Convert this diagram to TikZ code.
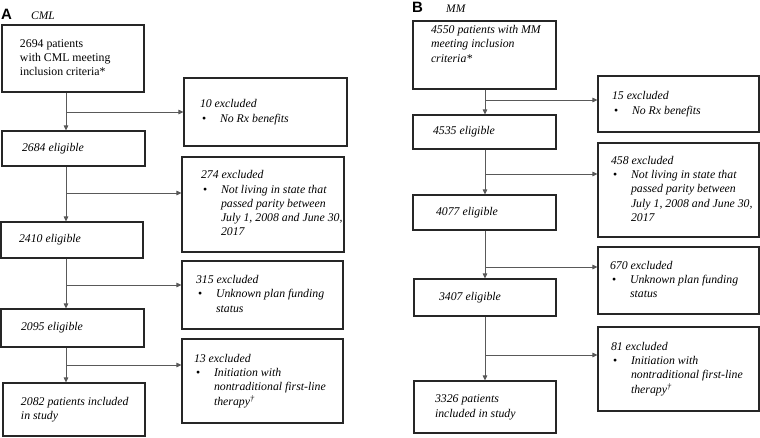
\documentclass[tikz,border=0pt]{standalone}
\usepackage{fontspec}
\setmainfont{Liberation Serif}
\setsansfont{Liberation Sans}
\usetikzlibrary{arrows.meta,calc}
% #1 = inner width, #2 = left pad, #3 = lines
\newcommand\btext[3]{\makebox[#1pt][l]{\hspace*{#2pt}\begin{tabular}{@{}l@{}}#3\end{tabular}}}
\newcommand\bul{\makebox[20pt][l]{\hspace{2pt}\textup{\textbullet}}}
\newcommand\ind{\hspace*{20pt}}
\begin{document}
\begin{tikzpicture}[x=1pt,y=-1pt,
  bx/.style n args={2}{draw=black!85, line width=1.1pt, minimum width=#1pt, minimum height=#2pt,
    inner xsep=2pt, inner ysep=0pt,
    font=\fontsize{11.8}{14.3}\selectfont},
  arr/.style={draw=black!65, line width=0.9pt, -{Triangle[length=5pt,width=4.5pt]}},
  panel/.style={anchor=base west, inner sep=0pt, font=\sffamily\bfseries\fontsize{15}{15}\selectfont},
  ptitle/.style={anchor=base west, inner sep=0pt, font=\itshape\fontsize{11.5}{14}\selectfont}]
\useasboundingbox (0,0) rectangle (760,437);

% ---------- Panel A ----------
\node[panel] (labA) at (1,19) {A};
\node[ptitle] (titA) at (31,19) {CML};

\node[bx={142}{67}] (a1) at (73,58.5) {\btext{138}{16}{2694 patients\\with CML meeting\\inclusion criteria*}};
\node[bx={143}{35}] (a2) at (73.5,148.5) {\itshape\btext{139}{18}{2684 eligible}};
\node[bx={142}{36}] (a3) at (72,240) {\itshape\btext{138}{16}{2410 eligible}};
\node[bx={143}{38}] (a4) at (72.5,328) {\itshape\btext{139}{18}{2095 eligible}};
\node[bx={142}{53}] (a5) at (74,409.5) {\itshape\btext{138}{16}{2082 patients included\\in study}};

\node[bx={163}{68}] (e1) at (265.5,112) {\itshape\btext{159}{14}{10 excluded\\\bul No Rx benefits}};
\node[bx={162}{95}] (e2) at (263,204.5) {\itshape\btext{158}{17}{274 excluded\\\bul Not living in state that\\\ind passed parity between\\\ind July 1, 2008 and June 30,\\\ind 2017}};
\node[bx={161}{68}] (e3) at (262.5,295) {\itshape\btext{157}{12}{315 excluded\\\bul Unknown plan funding\\\ind status}};
\node[bx={161}{84}] (e4) at (262.5,381) {\itshape\btext{157}{10}{13 excluded\\\bul Initiation with\\\ind nontraditional first-line\\\ind therapy\textsuperscript{†}}};

\coordinate (xA) at (66,0);
\draw[arr] (a1.south -| xA) -- (a2.north -| xA);
\draw[arr] (a2.south -| xA) -- (a3.north -| xA);
\draw[arr] (a3.south -| xA) -- (a4.north -| xA);
\draw[arr] (a4.south -| xA) -- (a5.north -| xA);
\coordinate (jA1) at (66,112);
\coordinate (jA2) at (66,193);
\coordinate (jA3) at (66,285);
\coordinate (jA4) at (66,365);
\draw[arr] (jA1) -- (jA1 -| e1.west);
\draw[arr] (jA2) -- (jA2 -| e2.west);
\draw[arr] (jA3) -- (jA3 -| e3.west);
\draw[arr] (jA4) -- (jA4 -| e4.west);

% ---------- Panel B ----------
\node[panel] (labB) at (412,12) {B};
\node[ptitle] (titB) at (446,12) {MM};

\node[bx={143}{68}] (b1) at (484.5,55) {\itshape\btext{139}{16}{4550 patients with MM\\meeting inclusion\\criteria*\\[5.7pt]\mbox{}}};
\node[bx={143}{34}] (b2) at (484.5,132) {\itshape\btext{139}{18}{4535 eligible}};
\node[bx={143}{35}] (b3) at (484.5,212.5) {\itshape\btext{139}{21}{4077 eligible}};
\node[bx={142}{37}] (b4) at (485,297.5) {\itshape\btext{138}{23}{3407 eligible}};
\node[bx={142}{52}] (b5) at (485,407) {\itshape\btext{138}{19}{3326 patients\\included in study}};

\node[bx={161}{56}] (f1) at (678.5,104) {\itshape\btext{157}{12}{15 excluded\\\bul No Rx benefits}};
\node[bx={161}{94}] (f2) at (678.5,190) {\itshape\btext{157}{11}{458 excluded\\\bul Not living in state that\\\ind passed parity between\\\ind July 1, 2008 and June 30,\\\ind 2017}};
\node[bx={161}{67}] (f3) at (678.5,280.5) {\itshape\btext{157}{10}{670 excluded\\\bul Unknown plan funding\\\ind status}};
\node[bx={161}{84}] (f4) at (678.5,369) {\itshape\btext{157}{11}{81 excluded\\\bul Initiation with\\\ind nontraditional first-line\\\ind therapy\textsuperscript{†}}};

\coordinate (xB) at (485,0);
\draw[arr] (b1.south -| xB) -- (b2.north -| xB);
\draw[arr] (b2.south -| xB) -- (b3.north -| xB);
\draw[arr] (b3.south -| xB) -- (b4.north -| xB);
\draw[arr] (b4.south -| xB) -- (b5.north -| xB);
\coordinate (jB1) at (485,100);
\coordinate (jB2) at (485,174);
\coordinate (jB3) at (485,267);
\coordinate (jB4) at (485,355);
\draw[arr] (jB1) -- (jB1 -| f1.west);
\draw[arr] (jB2) -- (jB2 -| f2.west);
\draw[arr] (jB3) -- (jB3 -| f3.west);
\draw[arr] (jB4) -- (jB4 -| f4.west);
\end{tikzpicture}
\end{document}
